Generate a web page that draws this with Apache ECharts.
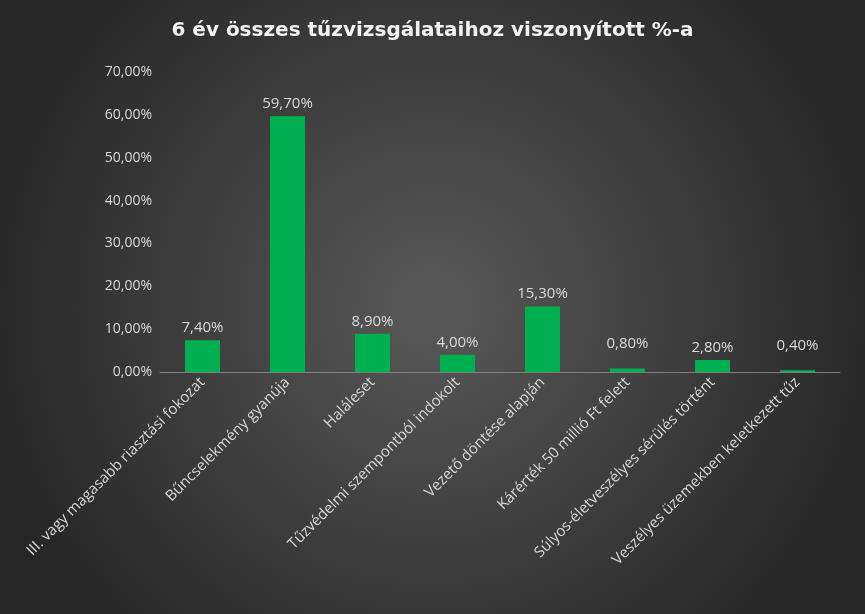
<!DOCTYPE html>
<html>
<head>
<meta charset="utf-8">
<script src="https://cdn.jsdelivr.net/npm/echarts@6/dist/echarts.min.js"></script>
<style>html,body{margin:0;padding:0;}#graph{width:865px;height:614px;}</style>
</head>
<body>
<div id="graph"></div>
<script>
var categories = ['III. vagy magasabb riasztási fokozat', 'Bűncselekmény gyanúja', 'Haláleset',
    'Tűzvédelmi szempontból indokolt', 'Vezető döntése alapján', 'Kárérték 50 millió Ft felett',
    'Súlyos-életveszélyes sérülés történt', 'Veszélyes üzemekben keletkezett tűz'];
var values = [7.4, 59.7, 8.9, 4.0, 15.3, 0.8, 2.8, 0.4];

function pct(v) { return v.toFixed(2).replace('.', ',') + '%'; }

var dom = document.getElementById("graph");
var chart = echarts.init(dom);

chart.setOption({
    backgroundColor: {
        type: 'radial', x: 0.5, y: 0.5, r: 0.75,
        colorStops: [{offset: 0, color: '#595959'}, {offset: 1, color: '#262626'}]
    },
    textStyle: {fontFamily: 'Open Sans'},
    title: {
        text: '6 év összes tűzvizsgálataihoz viszonyított %-a',
        left: 'center', top: 16,
        textStyle: {color: '#f2f2f2', fontSize: 20, fontWeight: 'bold', fontFamily: 'DejaVu Sans'}
    },
    grid: {left: 160, right: 25, top: 72, bottom: 242},
    xAxis: {
        type: 'category',
        data: categories,
        axisLine: {lineStyle: {color: '#7f7f7f'}},
        axisTick: {show: false},
        axisLabel: {color: '#d9d9d9', fontSize: 15, rotate: 45, interval: 0, margin: 8}
    },
    yAxis: {
        type: 'value', min: 0, max: 70, interval: 10,
        splitLine: {show: false},
        axisLabel: {color: '#d9d9d9', fontSize: 14, formatter: pct}
    },
    series: [{
        type: 'bar',
        barWidth: 35,
        itemStyle: {color: '#00b050'},
        data: values.map(function (v) {
            var d = {value: v};
            if (v < 1) {
                d.label = {offset: [0, -12]};
            }
            return d;
        }),
        label: {show: true, position: 'top', color: '#d9d9d9', fontSize: 15,
            formatter: function (p) { return pct(p.value); }}
    }]
});
</script>
</body>
</html>
